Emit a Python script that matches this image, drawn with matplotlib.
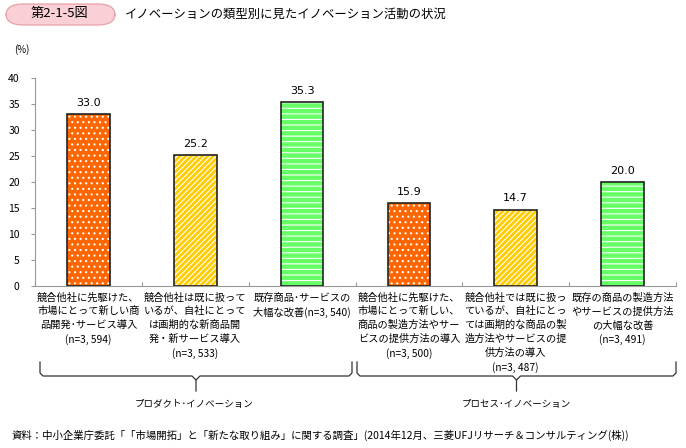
import matplotlib.pyplot as plt
from matplotlib.patches import FancyBboxPatch
from matplotlib.lines import Line2D
import numpy as np

plt.rcParams['font.family'] = ['Noto Sans CJK JP', 'DejaVu Sans']

# データ
labels = [
    "競合他社に先駆けた、\n市場にとって新しい商\n品開発･サービス導入\n(n=3, 594)",
    "競合他社は既に扱って\nいるが、自社にとって\nは画期的な新商品開\n発・新サービス導入\n(n=3, 533)",
    "既存商品･サービスの\n大幅な改善(n=3, 540)",
    "競合他社に先駆けた、\n市場にとって新しい、\n商品の製造方法やサー\nビスの提供方法の導入\n(n=3, 500)",
    "競合他社では既に扱っ\nているが、自社にとっ\nては画期的な商品の製\n造方法やサービスの提\n供方法の導入\n(n=3, 487)",
    "既存の商品の製造方法\nやサービスの提供方法\nの大幅な改善\n(n=3, 491)",
]
values = [33.0, 25.2, 35.3, 15.9, 14.7, 20.0]
groups = ["プロダクト･イノベーション", "プロセス･イノベーション"]
yticks = [0, 5, 10, 15, 20, 25, 30, 35, 40]

face_colors = ['#FF6600', '#FFCC00', '#66FF66'] * 2
hatches = ['...', '//////', '---'] * 2

W, H = 686, 448
fig = plt.figure(figsize=(W / 100, H / 100), dpi=100)
ax = fig.add_axes([35 / W, 1 - 286 / H, 641 / W, 208 / H])

x = np.arange(len(values))
plt.rcParams['hatch.linewidth'] = 0.8
# 塗り + 白いハッチ
ax.bar(x, values, width=0.4, color=face_colors, linewidth=0, zorder=2)
for xi, v, h in zip(x, values, hatches):
    ax.bar(xi, v, width=0.4, color='none', edgecolor='white', linewidth=0, hatch=h, zorder=3)
# 枠線
ax.bar(x, values, width=0.4, fill=False, edgecolor='#222222', linewidth=1.2, zorder=4)

for xi, v in zip(x, values):
    ax.text(xi, v + 1.2, f"{v:.1f}", ha='center', va='bottom', fontsize=8,
            family=['DejaVu Sans'])

ax.set_xlim(-0.5, 5.5)
ax.set_ylim(0, 40)
ax.set_yticks(yticks)
ax.tick_params(axis='y', labelsize=7.5, length=3, color='#999999', pad=8)
ax.set_xticks(np.arange(-0.5, 6, 1))
ax.set_xticklabels([])
ax.tick_params(axis='x', length=3, color='#999999', direction='in')
for s in ['top', 'right']:
    ax.spines[s].set_visible(False)
for s in ['left', 'bottom']:
    ax.spines[s].set_color('#999999')
    ax.spines[s].set_linewidth(0.8)

# カテゴリラベル
for xi, lab in zip(x, labels):
    ax.annotate(lab, xy=(xi, 0), xycoords='data', xytext=(0, -4.5), textcoords='offset points',
                ha='center', va='top', fontsize=7.35, linespacing=1.45)


def px(xp, yp):
    return (xp / W, 1 - yp / H)


# 中括弧
def brace(x0, x1, y0, ymid, ytip):
    xm = (x0 + x1) / 2
    pts = [(x0, y0), (x0, ymid - 3), (x0 + 3, ymid), (xm - 4, ymid), (xm, ymid + 4),
           (xm, ytip)]
    pts2 = [(x1, y0), (x1, ymid - 3), (x1 - 3, ymid), (xm + 4, ymid), (xm, ymid + 4)]
    for p in (pts, pts2):
        xs, ys = zip(*[px(a, b) for a, b in p])
        fig.add_artist(Line2D(xs, ys, color='#333333', linewidth=0.9, transform=fig.transFigure))


brace(40, 352, 362, 376, 391)
brace(357, 676, 362, 376, 391)
for gx, g in zip([194, 516], groups):
    fig.text(*px(gx, 404), g, ha='center', va='center', fontsize=6.8)

# タイトル
box = FancyBboxPatch(px(6, 25), 109 / W, 21 / H, boxstyle='round,pad=0,rounding_size=0.025',
                     transform=fig.transFigure, facecolor='#F8D0D5', edgecolor='#E8A0AA',
                     linewidth=0.9)
fig.add_artist(box)
fig.text(*px(59, 14), "第2-1-5図", ha='center', va='center', fontsize=9.5)
fig.text(*px(125, 14), "イノベーションの類型別に見たイノベーション活動の状況", ha='left',
         va='center', fontsize=8.9)
fig.text(*px(14, 50), "(%)", ha='left', va='center', fontsize=7)

fig.text(*px(12, 435), "資料：中小企業庁委託「「市場開拓」と「新たな取り組み」に関する調査」(2014年12月、三菱UFJリサーチ＆コンサルティング(株))",
         ha='left', va='center', fontsize=7.5)

fig.savefig('out.png', dpi=100)
